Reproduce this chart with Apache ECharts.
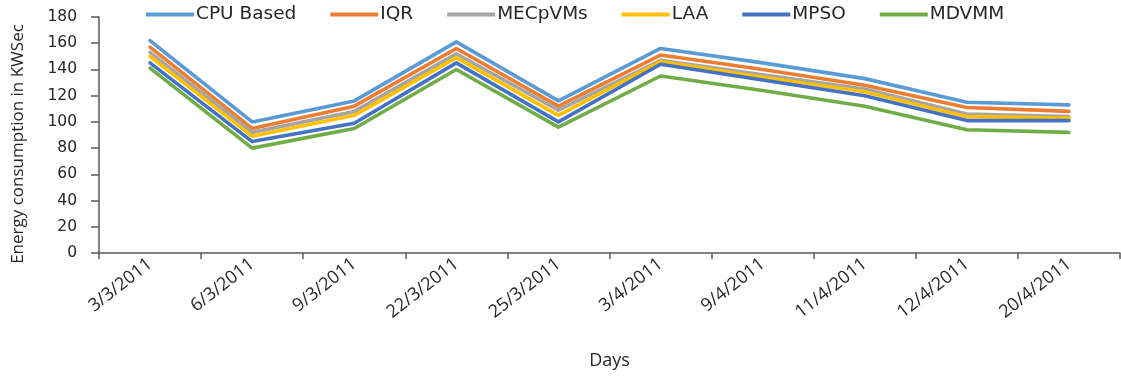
<!DOCTYPE html>
<html>
<head>
<meta charset="utf-8">
<style>
  html, body { margin: 0; padding: 0; background: #ffffff; }
  #chart { width: 1121px; height: 376px; }
</style>
<script src="https://cdn.jsdelivr.net/npm/echarts@6/dist/echarts.min.js"></script>
</head>
<body>
<div id="chart"></div>
<script>
// Measurement days
const days = ['3/3/2011', '6/3/2011', '9/3/2011', '22/3/2011', '25/3/2011',
              '3/4/2011', '9/4/2011', '11/4/2011', '12/4/2011', '20/4/2011'];

// Energy consumption (KWSec) per method
const cpuBased = [162, 100, 116, 161, 116, 156, 145, 133, 115, 113];
const iqr      = [157,  95, 112, 156, 112, 151, 140, 128, 111, 108];
const mecpvms  = [153,  92, 108, 152, 109, 147, 136, 125, 106, 104];
const laa      = [150,  89, 105, 149, 105, 146, 134, 123, 104, 103];
const mpso     = [145,  85,  99, 145, 100, 144, 132, 120, 101, 101];
const mdvmm    = [141,  80,  95, 140,  96, 135, 124, 112,  94,  92];

const seriesNames  = ['CPU Based', 'IQR', 'MECpVMs', 'LAA', 'MPSO', 'MDVMM'];
const seriesValues = [cpuBased, iqr, mecpvms, laa, mpso, mdvmm];
const seriesColors = ['#5B9BD5', '#ED7D31', '#A5A5A5', '#FFC000', '#4472C4', '#70AD47'];

const axisColor = '#595959';
const textColor = '#262626';

const chart = echarts.init(document.getElementById('chart'), null, { renderer: 'canvas' });

chart.setOption({
  animation: false,
  backgroundColor: '#ffffff',
  legend: {
    top: 0,
    left: 141,
    itemWidth: 48,
    itemHeight: 14,
    itemGap: 34,
    icon: 'path://M0,6 L48,6 L48,10 L0,10 Z',
    textStyle: { fontFamily: 'DejaVu Sans', fontSize: 18.5, color: textColor, padding: [0, 0, 0, -3] },
    data: seriesNames
  },
  grid: {
    left: 99, right: 1, top: 17, bottom: 123,
    containLabel: false,
    outerBoundsMode: 'none'
  },
  xAxis: {
    type: 'category',
    data: days,
    boundaryGap: true,
    name: 'Days',
    nameLocation: 'middle',
    nameGap: 99,
    nameTextStyle: { fontFamily: 'Open Sans', fontSize: 18, color: textColor },
    axisLine: { show: true, lineStyle: { color: axisColor, width: 1.5 } },
    axisTick: { show: true, alignWithLabel: false, length: 6, lineStyle: { color: axisColor, width: 1.5 } },
    axisLabel: {
      rotate: 38,
      margin: 9,
      interval: 0,
      fontFamily: 'Open Sans',
      fontSize: 18,
      color: textColor
    },
    splitLine: { show: false }
  },
  yAxis: {
    type: 'value',
    min: 0,
    max: 180,
    interval: 20,
    name: 'Energy consumption in KWSec',
    nameLocation: 'middle',
    nameGap: 72,
    nameRotate: 90,
    nameTextStyle: { fontFamily: 'Open Sans', fontSize: 17, color: textColor, padding: [0, 18, 0, 0] },
    axisLine: { show: true, lineStyle: { color: axisColor, width: 1.5 } },
    axisTick: { show: true, inside: false, length: 8, lineStyle: { color: axisColor, width: 1.5 } },
    axisLabel: {
      margin: 22,
      fontFamily: 'DejaVu Sans',
      fontSize: 15.5,
      color: textColor
    },
    splitLine: { show: false }
  },
  series: seriesNames.map((name, i) => ({
    name: name,
    type: 'line',
    data: seriesValues[i],
    symbol: 'none',
    smooth: false,
    color: seriesColors[i],
    lineStyle: { color: seriesColors[i], width: 3.6, cap: 'round', join: 'round' },
    emphasis: { disabled: true },
    z: 2 + i
  }))
});
</script>
</body>
</html>
